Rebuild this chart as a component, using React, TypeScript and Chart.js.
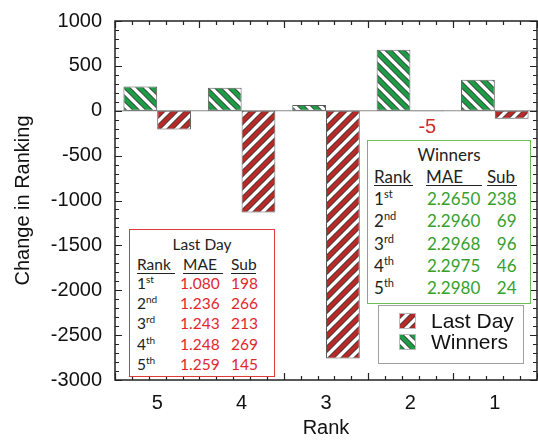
import React, { useEffect, useRef } from 'react';
import { Chart, registerables } from 'chart.js';

Chart.register(...registerables);

// ---- data ----
const ranks = ['5', '4', '3', '2', '1'];
const winnersChange = [270, 255, 65, 680, 345];
const lastDayChange = [-210, -1135, -2760, -5, -90];
const annotatedIndex = 3; // the tiny "-5" bar gets a value label

const tableRanks = ['1', '2', '3', '4', '5'];
const rankSuffixes = ['st', 'nd', 'rd', 'th', 'th'];
const lastDayMAE = ['1.080', '1.236', '1.243', '1.248', '1.259'];
const lastDaySub = ['198', '266', '213', '269', '145'];
const winnersMAE = ['2.2650', '2.2960', '2.2968', '2.2975', '2.2980'];
const winnersSub = ['238', '69', '96', '46', '24'];

const AXIS_FONT = '"Liberation Sans", Arial, sans-serif';
const TABLE_FONT = 'Lato, "Open Sans", sans-serif';
const GREEN = '#1d9b45';
const RED = '#b82a28';

function makeStripes(color: string, dir: number): CanvasPattern {
  const s = 13;
  const c = document.createElement('canvas');
  c.width = s;
  c.height = s;
  const g = c.getContext('2d')!;
  g.fillStyle = '#ffffff';
  g.fillRect(0, 0, s, s);
  const P = s / Math.SQRT2;
  const draw = (style: string, w: number) => {
    g.strokeStyle = style;
    g.lineWidth = w;
    for (const k of [-s, 0, s]) {
      g.beginPath();
      if (dir === 1) {
        g.moveTo(k - 2, -2);
        g.lineTo(k + s + 2, s + 2);
      } else {
        g.moveTo(k - 2, s + 2);
        g.lineTo(k + s + 2, -2);
      }
      g.stroke();
    }
  };
  draw('#333333', P / 2 + 1.2);
  draw(color, P / 2 - 0.4);
  return g.createPattern(c, 'repeat')!;
}

const framePlugin = {
  id: 'frame',
  beforeDatasetsDraw(chart: any) {
    const { ctx, chartArea } = chart;
    const y = chart.scales.y.getPixelForValue(0);
    ctx.save();
    ctx.strokeStyle = '#8a8a8a';
    ctx.lineWidth = 1.2;
    ctx.beginPath();
    ctx.moveTo(chartArea.left, y);
    ctx.lineTo(chartArea.right, y);
    ctx.stroke();
    ctx.restore();
  },
  afterDatasetsDraw(chart: any) {
    const { ctx, chartArea } = chart;
    const { left, right, top, bottom } = chartArea;
    const xs = chart.scales.x;
    const ys = chart.scales.y;
    ctx.save();
    // value label on the tiny bar
    const meta = chart.getDatasetMeta(1);
    const bar = meta.data[annotatedIndex];
    const v = chart.data.datasets[1].data[annotatedIndex];
    ctx.fillStyle = '#d42a2a';
    ctx.font = `20px ${AXIS_FONT}`;
    ctx.textAlign = 'center';
    ctx.textBaseline = 'middle';
    ctx.fillText(String(v), bar.x, bar.y + 16);

    ctx.strokeStyle = '#222';
    ctx.lineWidth = 1.5;
    ctx.strokeRect(left, top, right - left, bottom - top);
    ctx.lineWidth = 1.2;
    ctx.beginPath();
    for (let val = ys.min; val <= ys.max; val += 100) {
      const py = Math.round(ys.getPixelForValue(val)) + 0.5;
      const len = val % 500 === 0 ? 7 : 4;
      ctx.moveTo(left, py);
      ctx.lineTo(left + len, py);
      ctx.moveTo(right, py);
      ctx.lineTo(right - len, py);
    }
    const w = xs.getPixelForValue(1) - xs.getPixelForValue(0);
    const x0 = xs.getPixelForValue(0) - w / 2;
    for (let k = 0; k <= ranks.length * 5; k++) {
      const px = Math.round(x0 + (k * w) / 5) + 0.5;
      const len = k % 5 === 0 ? 7 : 4;
      ctx.moveTo(px, bottom);
      ctx.lineTo(px, bottom - len);
      ctx.moveTo(px, top);
      ctx.lineTo(px, top + len);
    }
    ctx.stroke();
    ctx.restore();
  },
  afterDraw(chart: any) {
    const { ctx } = chart;
    ctx.save();
    const bx = 378, by = 305, bw = 145, bh = 58;
    ctx.fillStyle = '#ffffff';
    ctx.fillRect(bx, by, bw, bh);
    ctx.strokeStyle = '#a0a0a0';
    ctx.lineWidth = 1;
    ctx.strokeRect(bx + 0.5, by + 0.5, bw, bh);
    const items = chart.data.datasets.slice().reverse();
    items.forEach((ds: any, i: number) => {
      const sy = by + 8 + i * 21;
      ctx.fillStyle = ds.backgroundColor;
      ctx.fillRect(399, sy, 17, 16);
      ctx.strokeStyle = '#bbb';
      ctx.strokeRect(399.5, sy + 0.5, 16, 15);
      ctx.fillStyle = '#111';
      ctx.font = `21px ${AXIS_FONT}`;
      ctx.textAlign = 'left';
      ctx.textBaseline = 'middle';
      ctx.fillText(ds.label, 431, sy + 9);
    });
    ctx.restore();
  },
};

type TableProps = {
  box: { left: number; top: number; width: number; height: number };
  border: string;
  valueColor: string;
  title: string;
  mae: string[];
  sub: string[];
  fontSize: number;
  titleY: number;
  headerY: number;
  rowY: number[];
  rankX: number;
  rankW: number;
  maeX: number;
  maeW: number;
  maeValX: number;
  subX: number;
  subW: number;
  subRight: boolean;
};

function StatTable(p: TableProps) {
  const lh = 20;
  const base: React.CSSProperties = {
    position: 'absolute',
    lineHeight: `${lh}px`,
    height: lh,
    whiteSpace: 'nowrap',
  };
  const at = (x: number, y: number): React.CSSProperties => ({ ...base, left: x, top: y - lh / 2 });
  const head = (w: number): React.CSSProperties => ({
    display: 'inline-block',
    width: w,
    borderBottom: '1.3px solid #222',
    lineHeight: `${lh - 3}px`,
  });
  return (
    <div
      style={{
        position: 'absolute',
        left: p.box.left,
        top: p.box.top,
        width: p.box.width,
        height: p.box.height,
        border: `1.5px solid ${p.border}`,
        boxSizing: 'border-box',
        background: '#fff',
        fontFamily: TABLE_FONT,
        fontSize: p.fontSize,
        color: '#222',
      }}
    >
      <div style={{ ...base, left: 0, width: '100%', textAlign: 'center', top: p.titleY - lh / 2 }}>{p.title}</div>
      <div style={at(p.rankX, p.headerY)}><span style={head(p.rankW)}>Rank</span></div>
      <div style={at(p.maeX, p.headerY)}><span style={head(p.maeW)}>MAE</span></div>
      <div style={at(p.subX, p.headerY)}><span style={head(p.subW)}>Sub</span></div>
      {tableRanks.map((r, i) => (
        <React.Fragment key={r}>
          <div style={at(p.rankX, p.rowY[i])}>
            {r}
            <span style={{ fontSize: p.fontSize * 0.65, position: 'relative', top: -p.fontSize * 0.4 }}>{rankSuffixes[i]}</span>
          </div>
          <div style={{ ...at(p.maeValX, p.rowY[i]), color: p.valueColor }}>{p.mae[i]}</div>
          {p.subRight ? (
            <div style={{ ...base, top: p.rowY[i] - lh / 2, right: p.box.width - (p.subX + p.subW) - 1.5, textAlign: 'right', color: p.valueColor }}>{p.sub[i]}</div>
          ) : (
            <div style={{ ...at(p.subX, p.rowY[i]), color: p.valueColor }}>{p.sub[i]}</div>
          )}
        </React.Fragment>
      ))}
    </div>
  );
}

export default function App() {
  const ref = useRef<HTMLCanvasElement>(null);
  useEffect(() => {
    const canvas = ref.current!;
    const chart = new Chart(canvas, {
      type: 'bar',
      data: {
        labels: ranks,
        datasets: [
          {
            label: 'Winners',
            data: winnersChange,
            backgroundColor: makeStripes(GREEN, 1) as any,
            borderColor: '#5a5a5a',
            borderWidth: 1,
            borderSkipped: false,
            categoryPercentage: 0.8,
            barPercentage: 1,
          },
          {
            label: 'Last Day',
            data: lastDayChange,
            backgroundColor: makeStripes(RED, -1) as any,
            borderColor: '#5a5a5a',
            borderWidth: 1,
            borderSkipped: false,
            categoryPercentage: 0.8,
            barPercentage: 1,
          },
        ],
      },
      options: {
        responsive: false,
        animation: false,
        devicePixelRatio: 1,
        layout: { padding: { top: 21, right: 1, left: 0, bottom: 0 } },
        plugins: { legend: { display: false }, tooltip: { enabled: false } },
        scales: {
          x: {
            offset: true,
            grid: { display: false, drawTicks: false },
            border: { display: false },
            ticks: { color: '#111', font: { family: AXIS_FONT, size: 20 }, padding: 11, maxRotation: 0 },
            title: { display: true, text: 'Rank', color: '#111', font: { family: AXIS_FONT, size: 20 }, padding: { top: 0, bottom: 1 } },
            afterFit: (s: any) => { s.height = 61; s.paddingLeft = 0; s.paddingRight = 0; },
          },
          y: {
            min: -3000,
            max: 1000,
            grid: { display: false, drawTicks: false },
            border: { display: false },
            ticks: { stepSize: 500, color: '#111', font: { family: AXIS_FONT, size: 20 }, padding: 13, callback: (v: any) => String(v) },
            title: { display: true, text: 'Change in Ranking', color: '#111', font: { family: AXIS_FONT, size: 20 }, padding: { top: 11, bottom: 0 } },
            afterFit: (s: any) => { s.width = 115; s.paddingTop = 0; s.paddingBottom = 0; },
          },
        },
      },
      plugins: [framePlugin],
    });
    return () => chart.destroy();
  }, []);

  return (
    <div style={{ position: 'fixed', left: 0, top: 0, width: 538, height: 441, background: '#fff', overflow: 'hidden' }}>
      <canvas ref={ref} width={538} height={441} style={{ position: 'absolute', left: 0, top: 0, width: 538, height: 441 }} />
      <StatTable
        box={{ left: 129, top: 229, width: 146, height: 148 }}
        border="#e0393a"
        valueColor="#e3262c"
        title="Last Day"
        mae={lastDayMAE}
        sub={lastDaySub}
        fontSize={15.5}
        titleY={14}
        headerY={34}
        rowY={[53, 73, 93, 114, 134]}
        rankX={7}
        rankW={38}
        maeX={53}
        maeW={40}
        maeValX={50}
        subX={101}
        subW={25}
        subRight={false}
      />
      <StatTable
        box={{ left: 367, top: 140, width: 164, height: 164 }}
        border="#6cbf55"
        valueColor="#35a02c"
        title="Winners"
        mae={winnersMAE}
        sub={winnersSub}
        fontSize={17}
        titleY={14}
        headerY={36}
        rowY={[58, 80, 103, 125, 147]}
        rankX={6}
        rankW={39}
        maeX={58}
        maeW={56}
        maeValX={59}
        subX={119}
        subW={30}
        subRight={true}
      />
    </div>
  );
}
